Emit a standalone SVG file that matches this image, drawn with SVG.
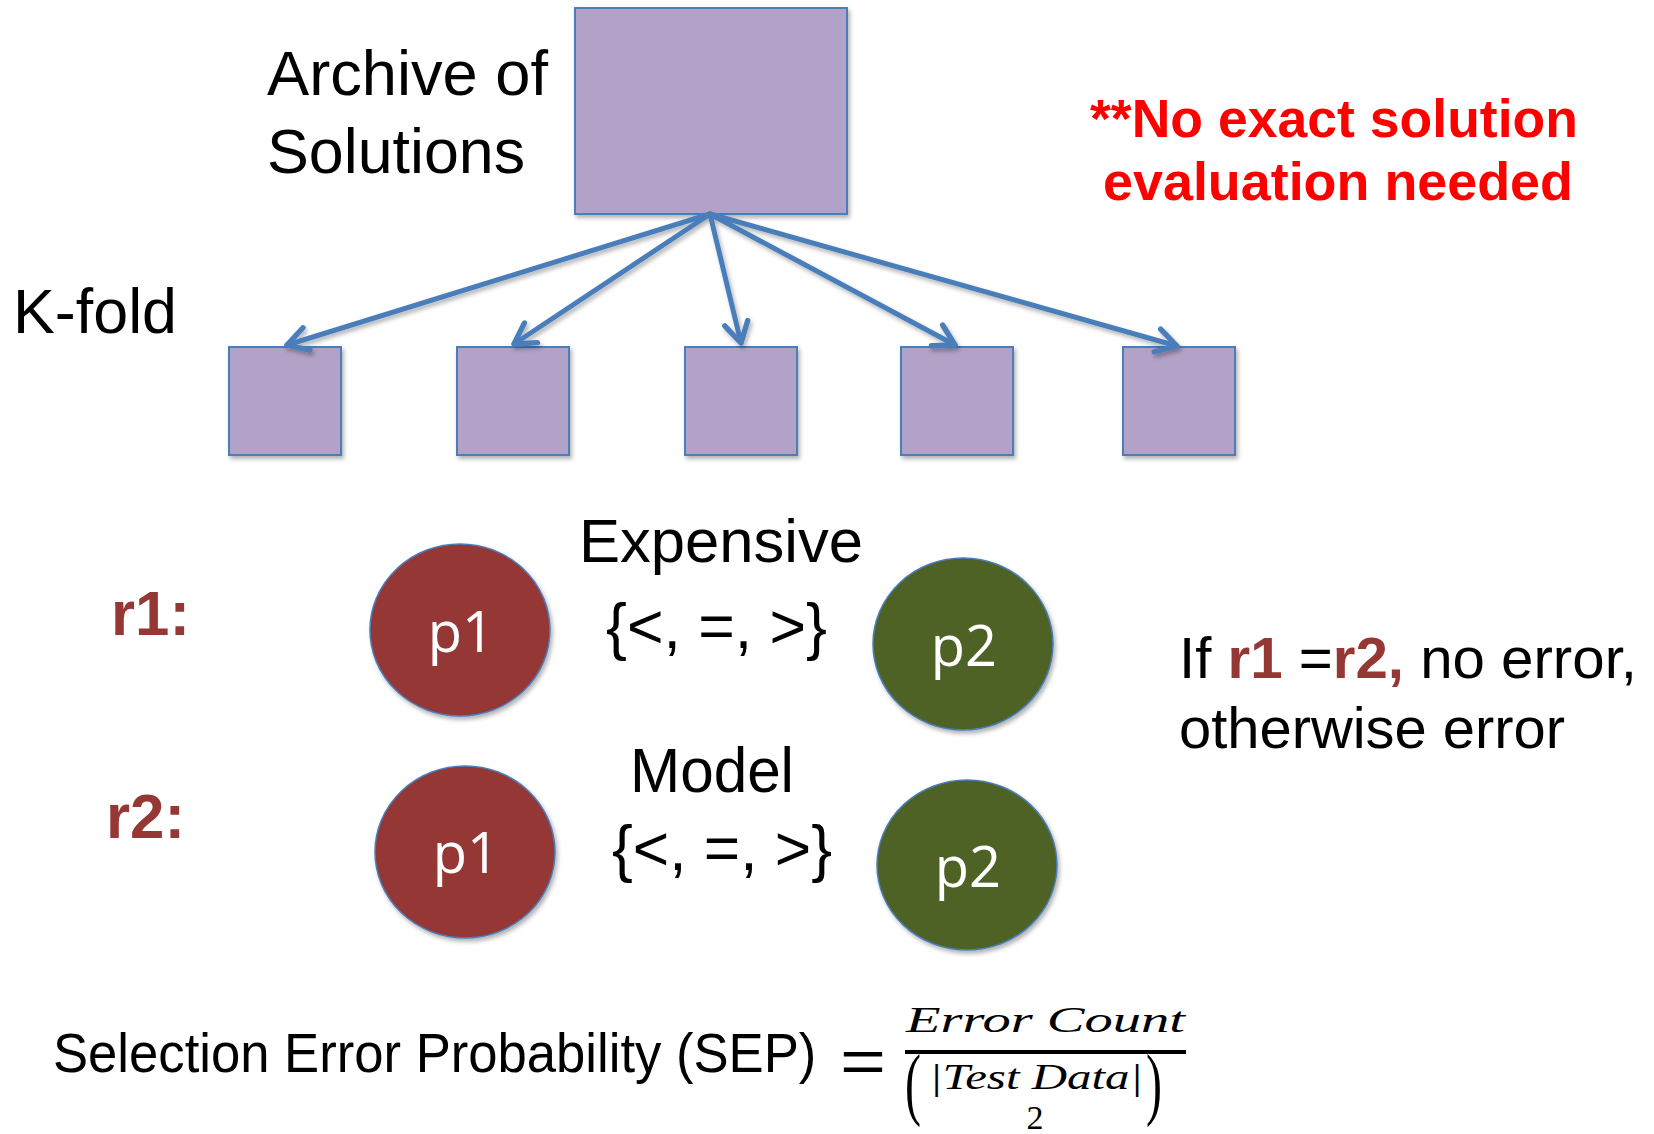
<svg xmlns="http://www.w3.org/2000/svg" width="1654" height="1134" viewBox="0 0 1654 1134">
<style>
.box{fill:#B3A2C7;stroke:#4A7EBB;stroke-width:2}
.red{fill:#953735;stroke:#4A7EBB;stroke-width:1.5}
.grn{fill:#4F6228;stroke:#4A7EBB;stroke-width:1.5}
.lbl{font-family:"Liberation Sans",Arial,sans-serif;fill:#000}
.pt{font-family:"Open Sans","Noto Sans",sans-serif;fill:#fff;font-size:56px;text-anchor:middle}
.rl{font-family:"Liberation Sans",Arial,sans-serif;font-weight:bold;fill:#953735;font-size:63px}
.note{font-family:"Liberation Sans",Arial,sans-serif;font-weight:bold;fill:#FF0000;font-size:54px}
.math{font-family:"Liberation Serif","DejaVu Serif",serif;fill:#000}
.arr{stroke:#4A7EBB;stroke-width:5;fill:none;stroke-linecap:round}
</style>
<defs>
<filter id="sh" x="-20%" y="-20%" width="140%" height="140%">
<feDropShadow dx="2" dy="3" stdDeviation="2" flood-color="#000" flood-opacity="0.3"/>
</filter>
<marker id="ah" markerUnits="userSpaceOnUse" markerWidth="30" markerHeight="30" viewBox="-24 -14 28 28" refX="0" refY="0" orient="auto">
<path d="M-19,-11 L0,0 L-19,11" fill="none" stroke="#4A7EBB" stroke-width="5" stroke-linecap="round" stroke-linejoin="round"/>
</marker>
</defs>

<g id="archive" filter="url(#sh)"><rect class="box" x="575" y="8" width="272" height="206"/></g>
<g id="fold1" filter="url(#sh)"><rect class="box" x="229" y="347" width="112" height="108"/></g>
<g id="fold2" filter="url(#sh)"><rect class="box" x="457" y="347" width="112" height="108"/></g>
<g id="fold3" filter="url(#sh)"><rect class="box" x="685" y="347" width="112" height="108"/></g>
<g id="fold4" filter="url(#sh)"><rect class="box" x="901" y="347" width="112" height="108"/></g>
<g id="fold5" filter="url(#sh)"><rect class="box" x="1123" y="347" width="112" height="108"/></g>

<g id="connectors" filter="url(#sh)">
<line class="arr" x1="710" y1="214" x2="287" y2="345" marker-end="url(#ah)"/>
<line class="arr" x1="710" y1="214" x2="514" y2="344" marker-end="url(#ah)"/>
<line class="arr" x1="710" y1="214" x2="741" y2="343" marker-end="url(#ah)"/>
<line class="arr" x1="710" y1="214" x2="955" y2="345" marker-end="url(#ah)"/>
<line class="arr" x1="710" y1="214" x2="1177" y2="346" marker-end="url(#ah)"/>
</g>

<g id="labels">
<text class="lbl" x="267" y="95" font-size="63" textLength="281" lengthAdjust="spacingAndGlyphs">Archive of</text>
<text class="lbl" x="267" y="173" font-size="63" textLength="258" lengthAdjust="spacingAndGlyphs">Solutions</text>
<text class="lbl" x="13" y="333" font-size="63" textLength="164" lengthAdjust="spacingAndGlyphs">K-fold</text>
<text class="note" x="1090" y="137" textLength="488" lengthAdjust="spacingAndGlyphs">**No exact solution</text>
<text class="note" x="1103" y="200" textLength="470" lengthAdjust="spacingAndGlyphs">evaluation needed</text>
<text class="lbl" x="579" y="562" font-size="62" textLength="284" lengthAdjust="spacingAndGlyphs">Expensive</text>
<text class="lbl" x="606" y="648" font-size="63" textLength="221" lengthAdjust="spacingAndGlyphs">{&lt;, =, &gt;}</text>
<text class="lbl" x="630" y="792" font-size="63" textLength="164" lengthAdjust="spacingAndGlyphs">Model</text>
<text class="lbl" x="612" y="870" font-size="63" textLength="220" lengthAdjust="spacingAndGlyphs">{&lt;, =, &gt;}</text>
<text class="rl" x="111" y="635" textLength="79" lengthAdjust="spacingAndGlyphs">r1:</text>
<text class="rl" x="106" y="838" textLength="79" lengthAdjust="spacingAndGlyphs">r2:</text>
<text class="lbl" x="1179" y="678" font-size="57" textLength="458" lengthAdjust="spacingAndGlyphs">If <tspan font-weight="bold" fill="#953735">r1</tspan> =<tspan font-weight="bold" fill="#953735">r2,</tspan> no error,</text>
<text class="lbl" x="1179" y="748" font-size="57" textLength="386" lengthAdjust="spacingAndGlyphs">otherwise error</text>
</g>

<g id="r1p1"><ellipse class="red" cx="460" cy="630" rx="90" ry="86" filter="url(#sh)"/><text class="pt" x="461" y="652">p1</text></g>
<g id="r1p2"><ellipse class="grn" cx="963" cy="644" rx="90" ry="86" filter="url(#sh)"/><text class="pt" x="964" y="666">p2</text></g>
<g id="r2p1"><ellipse class="red" cx="465" cy="852" rx="90" ry="86" filter="url(#sh)"/><text class="pt" x="466" y="873">p1</text></g>
<g id="r2p2"><ellipse class="grn" cx="967" cy="865" rx="90" ry="85" filter="url(#sh)"/><text class="pt" x="968" y="887">p2</text></g>

<g id="formula">
<text class="lbl" transform="translate(53,1072) scale(0.94,1)" font-size="56">Selection Error Probability (SEP)</text>
<text class="lbl" x="840" y="1082" font-size="62" textLength="46" lengthAdjust="spacingAndGlyphs">=</text>
<text class="math" x="906" y="1032" font-size="36" font-style="italic" textLength="279" lengthAdjust="spacingAndGlyphs">Error Count</text>
<rect x="905" y="1050" width="281" height="4" fill="#000"/>
<text class="math" transform="translate(905,1110) scale(1.2,2.0)" font-size="40">(</text>
<text class="math" x="929" y="1089" font-size="35" font-style="italic" textLength="214" lengthAdjust="spacingAndGlyphs">|Test Data|</text>
<text class="math" x="1035" y="1129" font-size="34" text-anchor="middle">2</text>
<text class="math" transform="translate(1146,1110) scale(1.2,2.0)" font-size="40">)</text>
</g>
</svg>
